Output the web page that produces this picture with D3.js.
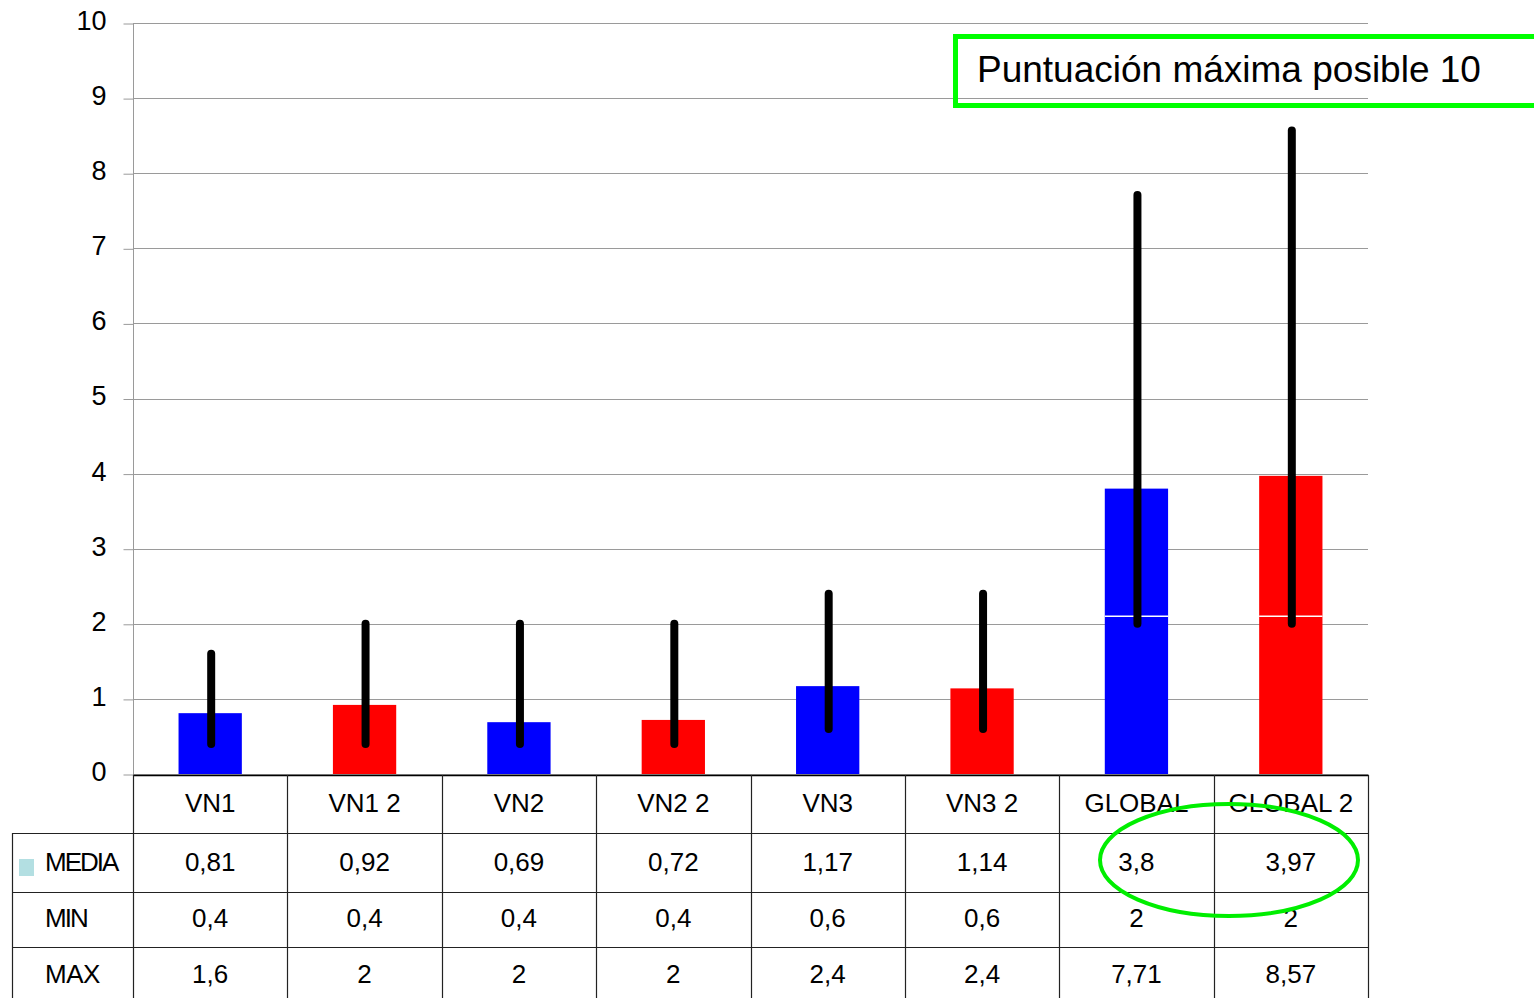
<!DOCTYPE html>
<html><head><meta charset="utf-8">
<script src="https://cdn.jsdelivr.net/npm/d3@7/dist/d3.min.js"></script>
<style>
html,body{margin:0;padding:0;background:#fff;}
svg{display:block;font-family:"Liberation Sans",Arial,sans-serif;}
</style></head>
<body><svg id="c" width="1534" height="998"></svg>
<script>
const categories = ["VN1","VN1 2","VN2","VN2 2","VN3","VN3 2","GLOBAL","GLOBAL 2"];
const media = [0.81,0.92,0.69,0.72,1.17,1.14,3.8,3.97];
const minVals = [0.4,0.4,0.4,0.4,0.6,0.6,2,2];
const maxVals = [1.6,2,2,2,2.4,2.4,7.71,8.57];
const segmentSplit = [null,null,null,null,null,null,2.1,2.1];
const groups = ["A","B","A","B","A","B","A","B"];
const rowLabels = ["MEDIA","MIN","MAX"];
const yTicks = [0,1,2,3,4,5,6,7,8,9,10];
const noteText = "Puntuación máxima posible 10";

(function(){
const svg = d3.select("#c");
const fmt = v => String(v).replace(".", ",");
const color = d3.scaleOrdinal().domain(["A","B"]).range(["#0000ff","#ff0000"]);

const pLeft = 133, pRight = 1368, pTop = 23, pBase = 774;
const y = d3.scaleLinear().domain([0,10]).range([pBase, pTop]);
const x = d3.scaleBand().domain(categories).range([pLeft, pRight]).paddingInner(0.59).paddingOuter(0.295);
const col = d3.scaleBand().domain(categories).range([pLeft, pRight]);

// gridlines
svg.append("g").selectAll("line").data(yTicks).join("line")
  .attr("x1", pLeft).attr("x2", pRight)
  .attr("y1", d => Math.round(y(d)) + 0.5).attr("y2", d => Math.round(y(d)) + 0.5)
  .attr("stroke", "#9a9a9a").attr("stroke-width", 1);

// y axis
const ax = svg.append("g").attr("transform", `translate(${pLeft + 0.5},0.5)`)
  .call(d3.axisLeft(y).tickValues(yTicks).tickSize(10).tickPadding(17).tickFormat(d3.format("d")));
ax.select(".domain").remove();
ax.selectAll(".tick line").attr("stroke", "#9a9a9a");
ax.selectAll(".tick text").attr("font-size", 27).attr("fill", "#000")
  .attr("font-family", "Liberation Sans, Arial, sans-serif").attr("dy", "0.22em");
svg.append("line").attr("x1", pLeft + 0.5).attr("x2", pLeft + 0.5).attr("y1", pTop).attr("y2", pBase)
  .attr("stroke", "#9a9a9a");

// bars
const bars = svg.append("g");
categories.forEach((c, i) => {
  bars.append("rect").attr("x", x(c)).attr("width", x.bandwidth())
    .attr("y", y(media[i])).attr("height", y(0) - y(media[i]))
    .attr("fill", color(groups[i]));
  if (segmentSplit[i] != null) {
    bars.append("line").attr("x1", x(c)).attr("x2", x(c) + x.bandwidth())
      .attr("y1", y(segmentSplit[i])).attr("y2", y(segmentSplit[i]))
      .attr("stroke", "#fff").attr("stroke-width", 1.5);
  }
});

// min-max lines
svg.append("g").selectAll("line").data(categories).join("line")
  .attr("x1", (d) => x(d) + x.bandwidth() / 2 + 1).attr("x2", (d) => x(d) + x.bandwidth() / 2 + 1)
  .attr("y1", (d, i) => y(minVals[i])).attr("y2", (d, i) => y(maxVals[i]))
  .attr("stroke", "#000").attr("stroke-width", 8).attr("stroke-linecap", "round");

// table
const rowTop = [833, 892, 947];
const tbl = svg.append("g");
const lineColor = "#222";
tbl.append("line").attr("x1", pLeft).attr("x2", pRight + 1).attr("y1", 775.5).attr("y2", 775.5).attr("stroke", "#000").attr("stroke-width", 1.5);
const bounds = categories.map(c => col(c)).concat([pRight]);
tbl.selectAll("line.v").data(bounds).join("line").attr("class", "v")
  .attr("x1", d => Math.round(d) + 0.5).attr("x2", d => Math.round(d) + 0.5)
  .attr("y1", 775).attr("y2", 998).attr("stroke", lineColor).attr("stroke-width", 1.2);
tbl.append("line").attr("x1", 12.5).attr("x2", 12.5).attr("y1", 833).attr("y2", 998).attr("stroke", lineColor).attr("stroke-width", 1.2);
tbl.selectAll("line.h").data(rowTop).join("line").attr("class", "h")
  .attr("x1", 12).attr("x2", pRight + 1).attr("y1", d => d + 0.5).attr("y2", d => d + 0.5)
  .attr("stroke", lineColor).attr("stroke-width", 1.2);

tbl.selectAll("text.hd").data(categories).join("text").attr("class", "hd")
  .attr("x", d => col(d) + col.bandwidth() / 2).attr("y", 812)
  .attr("text-anchor", "middle").attr("font-size", 26).text(d => d);

const rows = [media, minVals, maxVals];
const baselines = [871, 927, 983];
rows.forEach((vals, r) => {
  tbl.append("g").selectAll("text").data(categories).join("text")
    .attr("x", d => col(d) + col.bandwidth() / 2).attr("y", baselines[r])
    .attr("text-anchor", "middle").attr("font-size", 26)
    .text((d, i) => fmt(vals[i]));
  tbl.append("text").attr("x", 45).attr("y", baselines[r]).attr("font-size", 26)
    .attr("letter-spacing", r === 2 ? "-0.5px" : "-2px").text(rowLabels[r]);
});
tbl.append("rect").attr("x", 19).attr("y", 859).attr("width", 15).attr("height", 17).attr("fill", "#b3dfe2");

// annotation box
svg.append("rect").attr("x", 955.5).attr("y", 36.5).attr("width", 600).attr("height", 69)
  .attr("fill", "none").attr("stroke", "#00ff00").attr("stroke-width", 5);
svg.append("text").attr("x", 977).attr("y", 82).attr("font-size", 37).attr("fill", "#000").text(noteText);

// highlight ellipse
svg.append("ellipse").attr("cx", 1229).attr("cy", 860).attr("rx", 129).attr("ry", 56)
  .attr("fill", "none").attr("stroke", "#00ee00").attr("stroke-width", 4);
})();
</script></body></html>
